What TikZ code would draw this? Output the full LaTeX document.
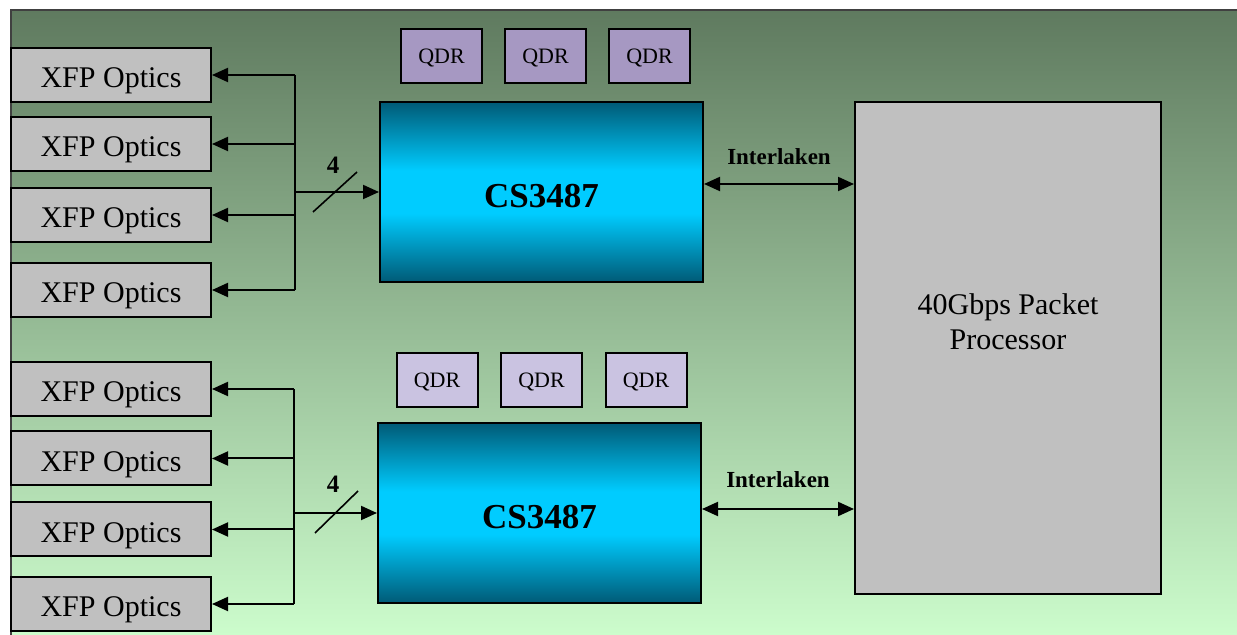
\documentclass[tikz,border=0pt]{standalone}
\usepackage{fontspec}
\setmainfont{Liberation Serif}
\usetikzlibrary{arrows.meta}
\definecolor{bgtop}{HTML}{5F7A5F}
\definecolor{bgbot}{HTML}{CCFCCC}
\definecolor{boxgray}{HTML}{C0C0C0}
\definecolor{chipdark}{HTML}{005A76}
\definecolor{chipcyan}{HTML}{00CCFF}
\definecolor{qdrtop}{HTML}{A698C2}
\definecolor{qdrbot}{HTML}{CAC3E1}
\pgfdeclareverticalshading{chipshade}{100bp}{color(0bp)=(chipdark); color(25bp)=(chipdark); color(44bp)=(chipcyan); color(56bp)=(chipcyan); color(75bp)=(chipdark); color(100bp)=(chipdark)}
\tikzset{
	xfp/.style={draw, line width=1pt, fill=boxgray, minimum width=100pt, minimum height=27pt, inner sep=0pt, text height=13pt, text depth=0pt, font=\fontsize{15}{18}\selectfont},
	chip/.style={draw, line width=1pt, shade, shading=chipshade, minimum width=161.5pt, minimum height=90pt, inner sep=0pt, text height=16pt, text depth=0pt, font=\fontsize{17.5}{20}\selectfont\bfseries},
	qdr/.style={draw, line width=1pt, minimum width=40.5pt, minimum height=27pt, inner sep=0pt, text height=7.5pt, text depth=0pt, font=\fontsize{11}{13}\selectfont},
	arr/.style={line width=1pt, -{Triangle[length=8pt,width=7pt]}},
	biarr/.style={line width=1pt, {Triangle[length=8pt,width=7pt]}-{Triangle[length=8pt,width=7pt]}},
	lbl/.style={font=\fontsize{11.5}{13}\selectfont\bfseries}
}

\begin{document}
\begin{tikzpicture}[x=0.5pt, y=-0.5pt]
		%%%%% START %%%%%
		\useasboundingbox (0,0) rectangle (1237,635);
		
		\shade[top color=bgtop, bottom color=bgbot] (11,10) rectangle (1237,635);
		\draw[line width=1pt, color=black!75] (11,635) -- (11,10) -- (1237,10);
		
		% optics, upper and lower group
		\foreach \i/\y in {1/75,2/144,3/215,4/290}
			\node[xfp] (xa\i) at (111,\y) {XFP Optics};
		\foreach \i/\y in {1/389,2/458.5,3/529.5,4/604}
			\node[xfp] (xb\i) at (111,\y) {XFP Optics};
		
		% framers
		\node[chip] (chipa) at (541.5,192) {CS3487};
		\node[chip] (chipb) at (539.5,513) {CS3487};
		
		\foreach \i/\x in {1/441.5,2/545.5,3/649.5}
			\node[qdr, fill=qdrtop] (qa\i) at (\x,56) {QDR};
		\foreach \i/\x in {1/437,2/541.5,3/646}
			\node[qdr, fill=qdrbot] (qb\i) at (\x,380) {QDR};
		
		\node[draw, line width=1pt, fill=boxgray, minimum width=153pt, minimum height=246pt,
			label={[yshift=13pt, align=center, font=\fontsize{15}{17.5}\selectfont]center:{40Gbps Packet\\Processor}}] (pp) at (1008,348) {};
		
		% buses
		\coordinate (busa) at (295,192);
		\coordinate (busb) at (294,513);
		\draw[line width=1pt] (busa |- xa1.east) -- (busa |- xa4.east);
		\draw[line width=1pt] (busb |- xb1.east) -- (busb |- xb4.east);
		\foreach \i in {1,...,4} {
			\draw[arr] (busa |- xa\i.east) -- (xa\i.east);
			\draw[arr] (busb |- xb\i.east) -- (xb\i.east);
		}
		\draw[arr] (busa) -- (chipa.west |- busa);
		\draw[arr] (busb) -- (chipb.west |- busb);
		
		\draw[line width=0.8pt] (busa) ++(18,20) -- ++(44,-40);
		\draw[line width=0.8pt] (busb) ++(21,20) -- ++(43,-42);
		\path (busa) ++(38,-27) node[lbl, font=\fontsize{12.5}{14}\selectfont\bfseries] (na) {4};
		\path (busb) ++(39,-29) node[lbl, font=\fontsize{12.5}{14}\selectfont\bfseries] (nb) {4};
		
		% interlaken
		\coordinate (ila) at ([yshift=4pt]chipa.east);
		\coordinate (ilb) at ([yshift=2pt]chipb.east);
		\draw[biarr] (ila) -- (ila -| pp.west) node[midway, above=6pt, lbl] {Interlaken};
		\draw[biarr] (ilb) -- (ilb -| pp.west) node[midway, above=7pt, lbl] {Interlaken};
		
		%%%%% END %%%%%
	\end{tikzpicture}
\end{document}
